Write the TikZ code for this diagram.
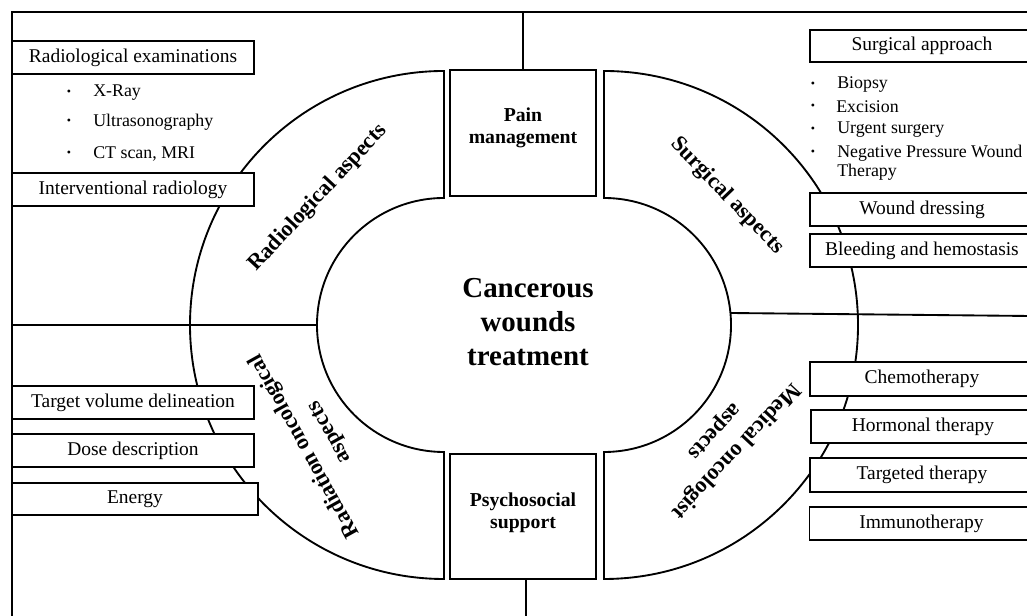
\documentclass[tikz,border=0pt]{standalone}
\usepackage{fontspec}
\setmainfont{Liberation Serif}
\usetikzlibrary{calc}
\begin{document}
\begin{tikzpicture}[x=0.75pt,y=0.75pt,
  heavy/.style={line width=1.4pt},
  tbox/.style={draw, line width=0.8pt, fill=white, inner sep=0pt, minimum height=24.75pt, font=\fontsize{14.6}{17}\selectfont},
  lbox/.style={tbox, minimum width=181.5pt},
  rbox/.style={tbox, minimum width=168pt},
  itemtext/.style={anchor=west, inner sep=0pt, font=\fontsize{13.4}{14.25}\selectfont, align=left},
  bul/.style={inner sep=0pt, font=\fontsize{9}{9}\selectfont},
  sq/.style={draw, line width=1.4pt, fill=white, minimum width=109.5pt, minimum height=94.5pt, inner sep=0pt},
  sqtext/.style={align=center, font=\bfseries\fontsize{14.8}{16.5}\selectfont, inner sep=0pt},
  sect/.style={font=\bfseries\fontsize{16.7}{21.5}\selectfont, align=center, inner sep=0pt}
]
\path[use as bounding box] (0,0) rectangle (1027,616);
\clip (0,0) rectangle (1027,616);

% frame
\draw[heavy] (1035,604) -- (12,604) -- (12,-5);

% ring sectors
\draw[heavy] (444,418) -- (444,545) arc[start angle=90, end angle=270, radius=254] -- (444,164) arc[start angle=270, end angle=90, radius=127] -- cycle;
\draw[heavy] (604,418) -- (604,545) arc[start angle=90, end angle=-90, radius=254] -- (604,164) arc[start angle=-90, end angle=90, radius=127] -- cycle;

% horizontal dividers
\coordinate (lend) at (12,291);
\coordinate (linner) at (317,291);
\coordinate (rinner) at (730,303);
\coordinate (rend) at (1030,300);
\draw[heavy] (lend) -- (linner);
\draw[heavy] (rinner) -- (rend);

% centre
\node[font=\bfseries\fontsize{21.7}{25.5}\selectfont, align=center] (title) at (528,294) {Cancerous\\wounds\\treatment};

% squares
\node[sq] (pain) at (523,483) {};
\node[sqtext] (paintext) at (523,488) {Pain\\management};
\node[sq, minimum height=93.75pt] (psy) at (523,99.5) {};
\node[sqtext] (psytext) at (523,103) {Psychosocial\\support};
\coordinate (topend) at (523,604);
\coordinate (botend) at (526,-5);
\draw[heavy] (topend) -- (pain.north);
\draw[heavy] ([xshift=2.25pt]psy.south) -- (botend);

% sector labels
\node[sect, rotate=47] (rad) at (318,418) {Radiological aspects};
\node[sect, rotate=-46] (surg) at (727,420) {Surgical aspects};
\node[sect, rotate=119] (radonc) at (317,177) {Radiation oncological\\aspects};
\node[sect, rotate=227] (med) at (725,175) {Medical oncologist\\aspects};

% left top boxes
\node[lbox] (radex) at (133,558.5) {Radiological examinations};
\node[bul] (b1) at (69,523) {\textbullet};
\node[itemtext] (xray) at (93,523) {X-Ray};
\node[bul] (b2) at (69,494) {\textbullet};
\node[itemtext] (us) at (93,494) {Ultrasonography};
\node[bul] (b3) at (69,462) {\textbullet};
\node[itemtext] (ct) at (93,462) {CT scan, MRI};
\node[lbox] (interv) at (133,426.5) {Interventional radiology};

% left bottom boxes
\node[lbox] (target) at (133,213.5) {Target volume delineation};
\node[lbox] (dose) at (133,165.5) {Dose description};
\node[lbox, minimum width=184.5pt, minimum height=24pt] (energy) at (135,117) {Energy};

% right top boxes
\node[rbox, minimum height=24pt] (surgapp) at (922,570) {Surgical approach};
\node[bul] (b4) at (813,531) {\textbullet};
\node[itemtext] (biopsy) at (837,531) {Biopsy};
\node[bul] (b5) at (813,509) {\textbullet};
\node[itemtext] (excision) at (836,509) {Excision};
\node[bul] (b6) at (813,486) {\textbullet};
\node[itemtext] (urgent) at (837,486) {Urgent surgery};
\node[bul] (b7) at (813,463) {\textbullet};
\node[itemtext] (npwt) at (837,453.5) {Negative Pressure Wound\\Therapy};
\node[rbox] (wound) at (922,406.5) {Wound dressing};
\node[rbox] (bleed) at (922,365.5) {Bleeding and hemostasis};

% right bottom boxes
\node[rbox, minimum height=25.5pt] (chemo) at (922,237) {Chemotherapy};
\node[rbox] (hormonal) at (923,189.5) {Hormonal therapy};
\node[rbox, minimum height=25.5pt] (targeted) at (922,141) {Targeted therapy};
\node[rbox] (immuno) at (921.5,92.5) {Immunotherapy};
\end{tikzpicture}
\end{document}
